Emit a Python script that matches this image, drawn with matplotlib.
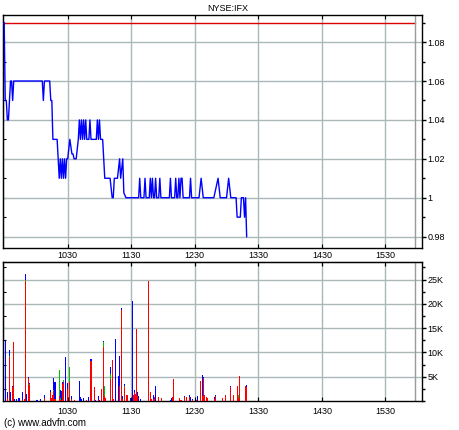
import matplotlib
matplotlib.use('Agg')
import matplotlib.pyplot as plt
import numpy as np
from matplotlib.ticker import FuncFormatter, MultipleLocator

plt.rcParams['font.family'] = ['Liberation Sans', 'DejaVu Sans']

# minutes after 09:30 and last price
price_min = [0, 1, 2, 3, 4, 6, 7, 8, 9, 36, 37, 38, 43, 44, 45, 46, 50,
             52, 53, 54, 55, 56, 57, 58, 59, 60, 62, 64, 65, 66, 68, 70,
             71, 72, 73, 74, 75, 76, 77, 78, 80, 81, 82, 87, 88, 89, 90, 91, 93,
             95, 100, 102, 103, 104, 107, 109, 110, 112, 113, 115,
             127, 128, 129, 132, 133, 134, 137, 138, 139, 140, 141, 142, 143, 144,
             146, 147, 148, 156, 157, 158, 161, 162, 163, 164, 165, 166, 167, 168,
             169, 175, 176, 177, 184, 186, 188, 198, 199, 202, 204, 210, 212, 214,
             219, 220, 223, 224, 226, 227, 228, 229]
price_val = [1.09, 1.05, 1.05, 1.04, 1.04, 1.06, 1.06, 1.05, 1.06, 1.06, 1.05, 1.06, 1.06, 1.05, 1.05, 1.03, 1.03,
             1.01, 1.02, 1.01, 1.02, 1.01, 1.02, 1.01, 1.02, 1.02, 1.03, 1.0225, 1.0225, 1.02, 1.02, 1.03,
             1.04, 1.03, 1.04, 1.03, 1.04, 1.03, 1.04, 1.03, 1.03, 1.04, 1.03, 1.03, 1.04, 1.03, 1.04, 1.03, 1.03,
             1.01, 1.01, 1.00, 1.00, 1.01, 1.01, 1.02, 1.01, 1.02, 1.0025, 1.00,
             1.00, 1.01, 1.00, 1.00, 1.01, 1.00, 1.00, 1.01, 1.00, 1.01, 1.00, 1.00, 1.01, 1.00,
             1.00, 1.01, 1.00, 1.00, 1.01, 1.00, 1.00, 1.01, 1.00, 1.00, 1.01, 1.00, 1.01, 1.01,
             1.00, 1.00, 1.01, 1.00, 1.00, 1.01, 1.00, 1.00, 1.0025, 1.01, 1.00, 1.00, 1.01, 1.00,
             1.00, 0.99, 0.99, 1.00, 1.00, 0.99, 1.00, 0.98]
prev_close = 1.09

# volume per minute (thousands), split by colour
vol_min = [1, 3, 5, 6, 8, 9, 10, 12, 14, 17, 19, 20, 21, 23, 24, 31, 34, 38, 44, 45,
           46, 47, 48, 52, 53, 54, 55, 56, 58, 60, 62, 64, 66, 71, 72, 73, 75, 78, 80, 82,
           85, 86, 89, 90, 92, 94, 95, 96, 100, 102, 103, 105, 108, 109, 111, 112, 114, 116, 119, 121,
           122, 123, 124, 125, 126, 127, 129, 136, 138, 139, 141, 142, 143, 146, 149, 157, 158, 159, 160, 166,
           167, 170, 172, 175, 176, 178, 182, 183, 185, 187, 188, 189, 191, 192, 199, 200, 206, 209, 214, 217,
           220, 221, 222, 228, 229]
vol_red = [0, 0.7, 9.1, 0, 2.8, 12.1, 0, 0, 0, 0.3, 0.5, 24.8, 0, 4.8, 3.3, 0, 0, 0.6, 1.9, 0.6,
           1.2, 2.0, 0.5, 1.0, 0.3, 0.3, 3.6, 4.0, 0, 2.4, 4.0, 0.4, 0.3, 0, 0, 0, 0, 0.3, 0, 8.2,
           2.9, 0, 0.3, 0, 2.4, 11.1, 1.0, 0.6, 4.5, 8.4, 0.4, 0, 0, 3.0, 18.8, 0.5, 2.8, 1.2, 0, 0,
           1.2, 1.9, 1.5, 14.8, 1.0, 0, 0, 24.8, 1.8, 0.5, 0.5, 0.8, 0, 0.8, 0.6, 0, 0, 0.9, 4.5, 0.6,
           0.3, 0.8, 0.9, 0.9, 0, 0.3, 0.2, 0, 4.2, 1.0, 4.8, 1.3, 0.9, 0.7, 0.5, 1.0, 0.6, 1.3, 2.9, 1.3,
           3.0, 0.6, 5.1, 3.0, 2.9]
vol_green = [0, 0, 0.2, 0, 0, 0, 0, 0, 0, 0, 0, 0.2, 0, 0, 0.2, 0, 0, 0, 0, 0,
             0, 0.3, 0, 5.3, 0.3, 0, 0, 0.3, 0, 0, 2.9, 0, 0, 0, 0, 0, 0, 0, 0, 0,
             0, 0, 0, 0, 0, 1.0, 2.0, 0, 1.0, 0, 0, 0, 0, 0, 0, 0, 0.3, 0, 0, 0,
             0, 0, 0, 0, 0, 0, 0, 0, 0, 0, 0, 0, 0, 0, 0, 0, 0, 0, 0, 0,
             0, 0, 0, 0, 0, 0, 0, 0, 0, 0, 0, 0, 0, 0, 0, 0, 0, 0, 0, 0,
             0, 0.6, 0, 0, 0]
vol_blue = [12.3, 1.2, 1.3, 1.8, 0.2, 0, 0.4, 0.4, 0.6, 1.6, 0, 1.1, 1.5, 0.2, 0.3, 0.3, 0.5, 0.7, 0.3, 0,
            0, 2.4, 3.4, 0, 1.6, 1.8, 0.4, 0, 9.0, 1.3, 0.2, 0.7, 0, 4.2, 0.8, 0.4, 0.7, 0, 0.9, 0.4,
            0, 0.3, 0.7, 0.3, 0, 0.3, 0, 0, 1.6, 0, 0, 12.7, 5.1, 6.2, 0.3, 0.5, 0.5, 0, 0.6, 20.6,
            0, 0.3, 0, 0, 0.8, 1.0, 0.5, 0, 0, 0, 0.8, 0, 3.0, 0, 0, 0.3, 0.6, 0, 0, 0,
            0, 0.3, 0, 0.3, 0.9, 0.2, 0, 1.0, 0, 4.3, 0.2, 0, 0, 0, 0.4, 0.2, 0, 0, 0.2, 0,
            0, 0, 0, 0, 0.4]

hour_ticks = [60, 120, 180, 240, 300, 360]
hour_labels = ['1030', '1130', '1230', '1330', '1430', '1530']

grid_col = '#aab8b8'
fs = 6.5

fig = plt.figure(figsize=(4.6, 4.3), dpi=100)
W, H = 460.0, 430.0
left, right = 2.7 / W, 422 / W
ax1 = fig.add_axes([left, 1 - 247.7 / H, right - left, (247.7 - 14.5) / H])
ax2 = fig.add_axes([left, 1 - 401 / H, right - left, (401 - 262.3) / H])
xmin, xmax = -1.4, 394.6
close_line = 388

# price panel
ax1.plot(price_min, price_val, color='#0000ff', lw=1.0, zorder=3)
ax1.plot([xmin, close_line], [prev_close, prev_close], color='#dd0000', lw=1, zorder=2)
ax1.axvline(close_line, color='#9a9a9a', lw=1, zorder=2)
ax1.set_xlim(xmin, xmax)
ax1.set_ylim(0.9743, 1.0942)
ax1.set_xticks(hour_ticks)
ax1.set_yticks([0.98, 1.0, 1.02, 1.04, 1.06, 1.08])
ax1.yaxis.set_minor_locator(MultipleLocator(0.01))
ax1.yaxis.set_major_formatter(FuncFormatter(lambda v, p: '%g' % round(v, 2)))
ax1.yaxis.tick_right()
ax1.tick_params(axis='y', which='major', direction='out', length=3, width=1, labelsize=fs, pad=1)
ax1.tick_params(axis='y', which='minor', direction='out', length=2, width=1)
ax1.tick_params(axis='x', top=True, bottom=True, direction='in', length=3, labelbottom=False)
ax1.grid(True, color=grid_col, lw=1, zorder=0)
sec1 = ax1.secondary_yaxis('left')
sec1.set_yticks(np.arange(0.98, 1.0901, 0.01))
sec1.tick_params(direction='in', length=2, labelleft=False)

# volume panel
vol_min = np.array(vol_min)
r = np.array(vol_red) * 1000
g = np.array(vol_green) * 1000
b = np.array(vol_blue) * 1000
ax2.bar(vol_min, r, width=1.0, color='#ff0000', linewidth=0, antialiased=False, zorder=3)
ax2.bar(vol_min, g, width=1.0, bottom=r, color='#00c000', linewidth=0, antialiased=False, zorder=3)
ax2.bar(vol_min, b, width=1.0, bottom=r + g, color='#0000ff', linewidth=0, antialiased=False, zorder=3)
ax2.axvline(close_line, color='#9a9a9a', lw=1, zorder=2)
ax2.set_xlim(xmin, xmax)
ax2.set_ylim(0, 28550)
ax2.set_xticks(hour_ticks)
ax2.set_xticklabels(hour_labels)
ax2.set_yticks([5000, 10000, 15000, 20000, 25000])
ax2.set_yticklabels(['5K', '10K', '15K', '20K', '25K'])
ax2.yaxis.set_minor_locator(MultipleLocator(2500))
ax2.yaxis.tick_right()
ax2.tick_params(axis='y', which='major', direction='out', length=3, width=1, labelsize=fs, pad=1)
ax2.tick_params(axis='y', which='minor', direction='out', length=2, width=1)
ax2.tick_params(axis='x', bottom=True, top=True, direction='in', length=3, labelsize=fs, pad=4)
ax2.grid(True, color=grid_col, lw=1, zorder=0)
sec2 = ax2.secondary_yaxis('left')
sec2.set_yticks(np.arange(2500, 28000, 2500))
sec2.tick_params(direction='in', length=2, labelleft=False)
top2 = ax2.secondary_xaxis('top')
top2.set_xticks(hour_ticks)
top2.set_xticklabels(hour_labels)
top2.tick_params(direction='in', length=3, labelsize=fs, pad=1.5)

for ax in (ax1, ax2):
    for s in ax.spines.values():
        s.set_linewidth(1)

fig.text(228 / W, 1 - 8.5 / H, 'NYSE:IFX', ha='center', va='center', fontsize=fs)
fig.text(4 / W, 1 - 423 / H, '(c) www.advfn.com', ha='left', va='center', fontsize=7)

fig.savefig('out.png', dpi=100)
